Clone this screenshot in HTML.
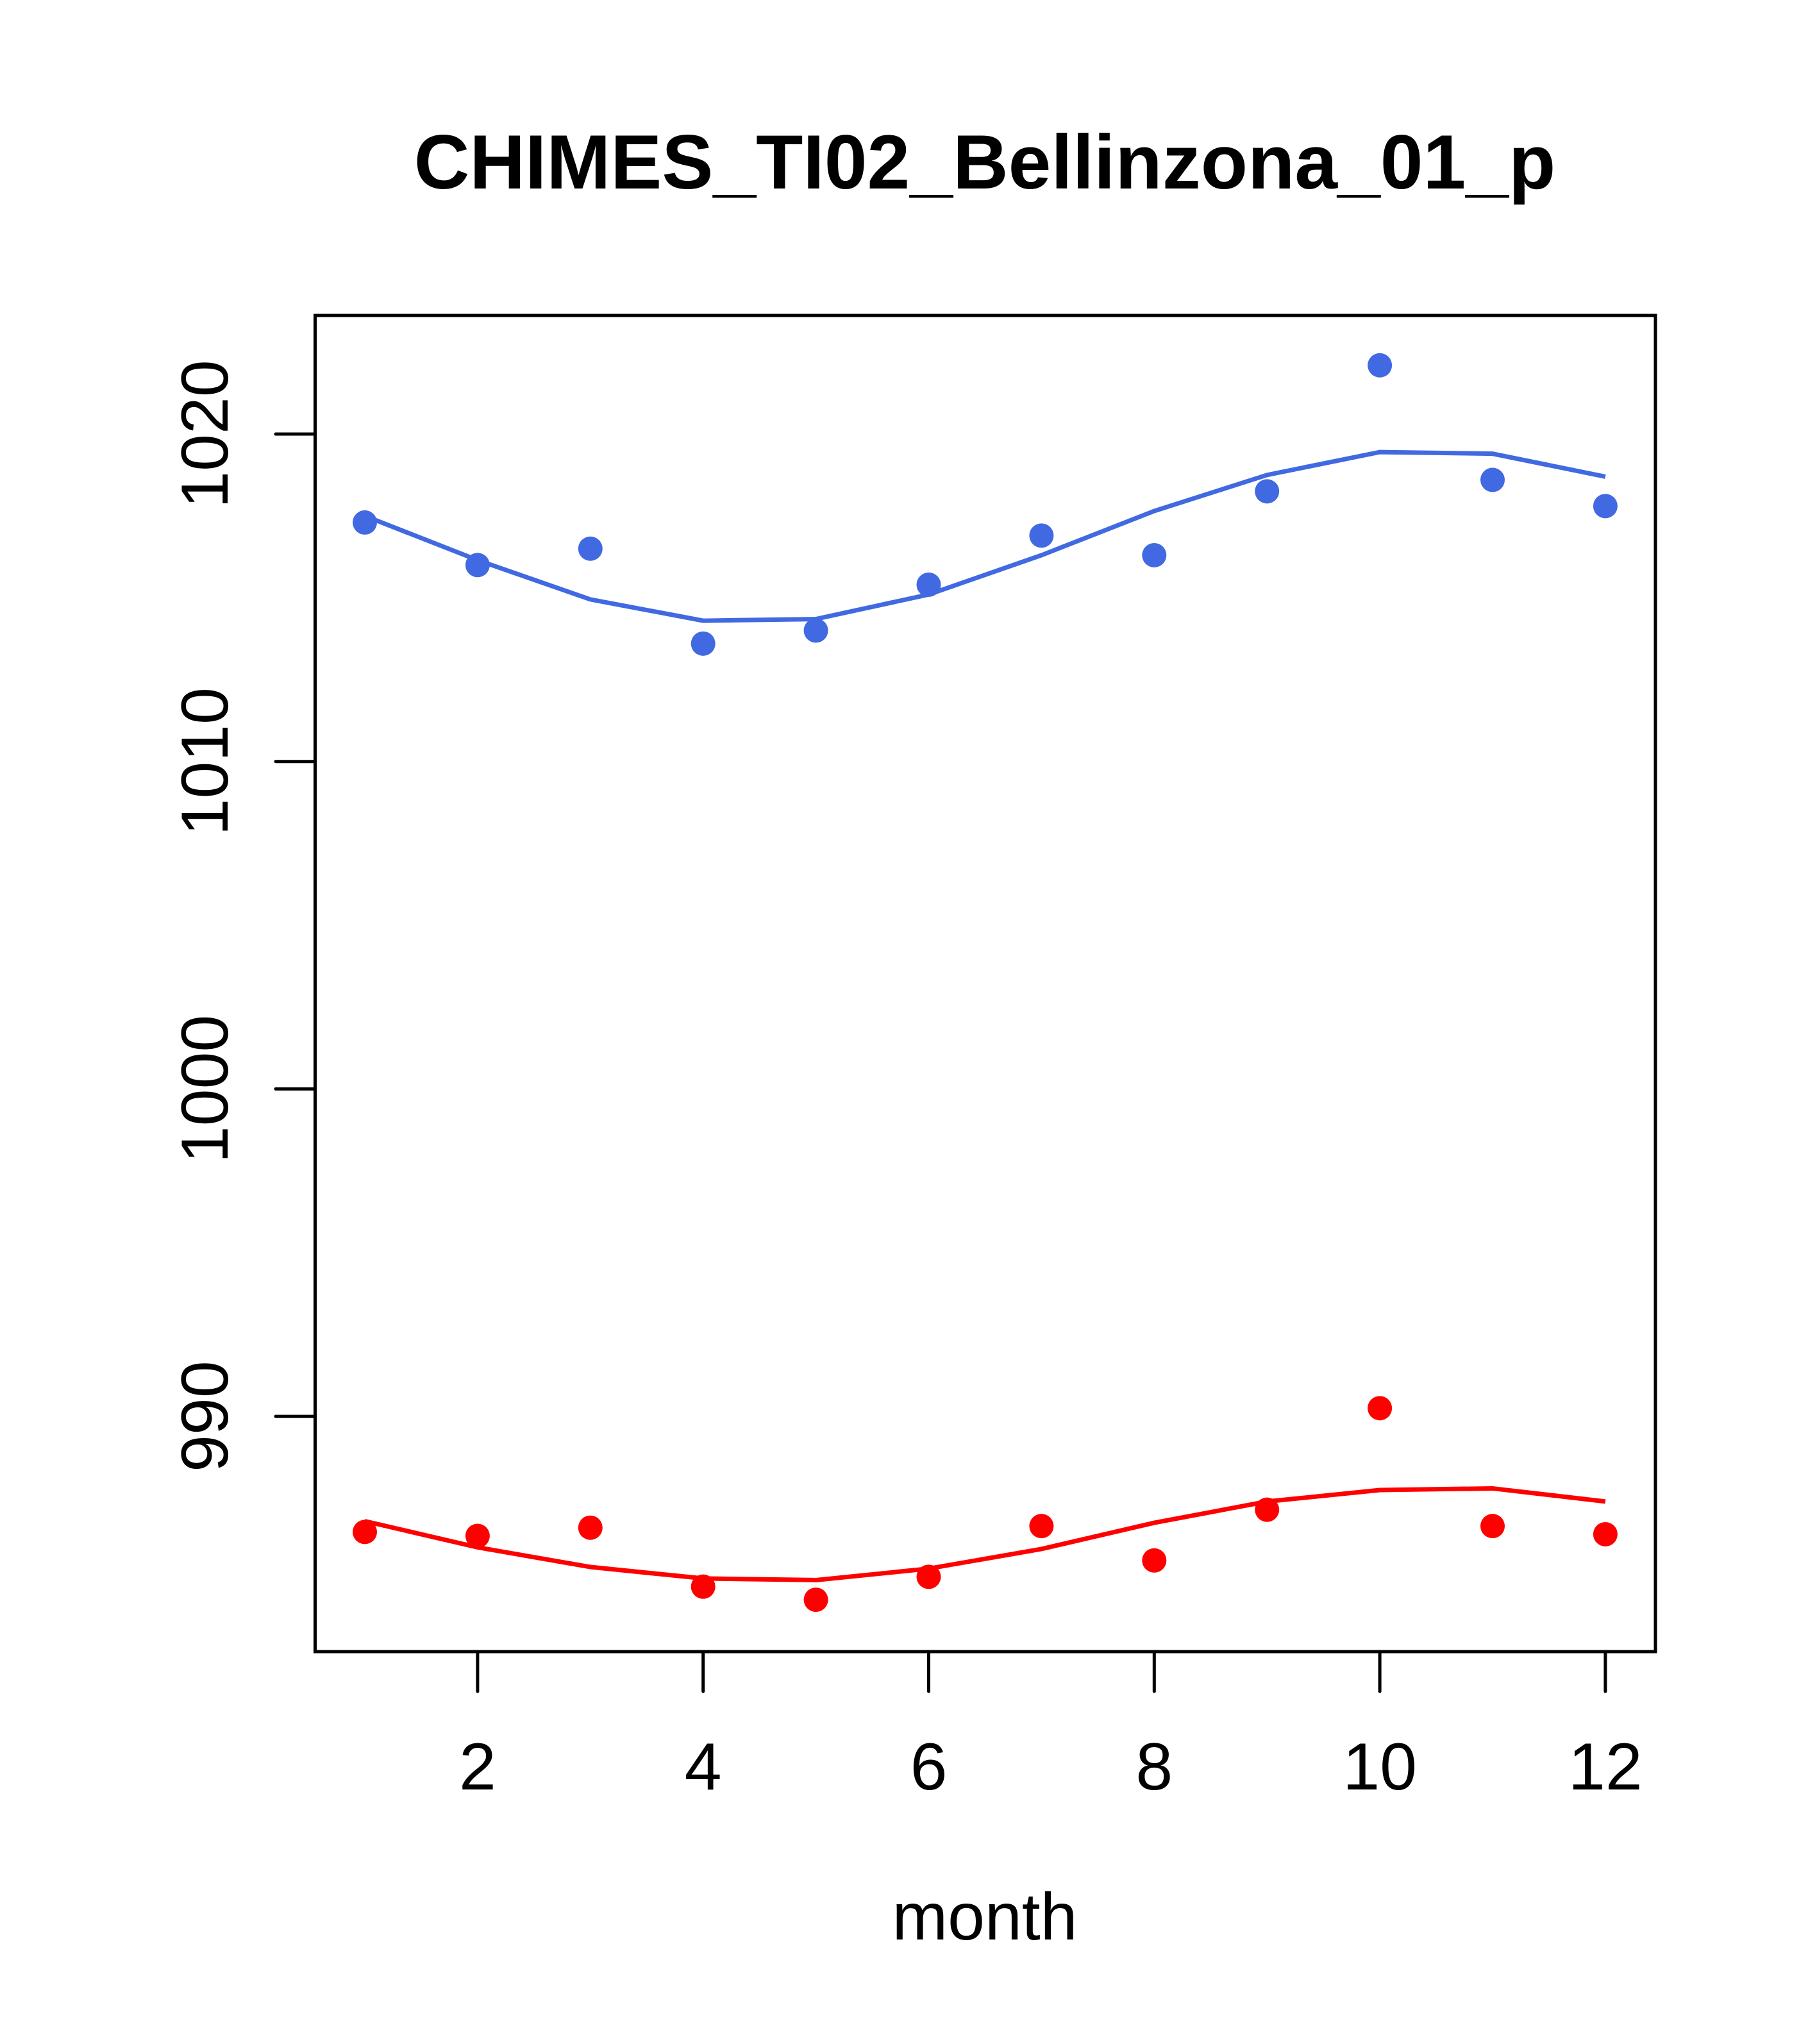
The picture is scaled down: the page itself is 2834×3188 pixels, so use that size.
<!DOCTYPE html>
<html><head><meta charset="utf-8"><style>html,body{margin:0;padding:0;background:#fff}svg{display:block}</style></head>
<body>
<svg id="chart" width="2834" height="3188" viewBox="0 0 2834 3188" xmlns="http://www.w3.org/2000/svg" font-family="'Liberation Sans', Arial, sans-serif">
<rect width="2834" height="3188" fill="#fff"/>
<text x="1536" y="294" font-size="120" font-weight="bold" text-anchor="middle">CHIMES_TI02_Bellinzona_01_p</text>
<g id="plot"></g>
<text x="1536" y="3025" font-size="104" text-anchor="middle">month</text>
</svg>
<script>
const months = [1,2,3,4,5,6,7,8,9,10,11,12];
const bluePoints = [1017.3,1016.0,1016.5,1013.6,1014.0,1015.4,1016.9,1016.3,1018.25,1022.1,1018.6,1017.8];
const blueLine = [1017.5,1016.15,1014.95,1014.3,1014.35,1015.1,1016.3,1017.65,1018.75,1019.45,1019.4,1018.7];
const redPoints = [986.47,986.35,986.6,984.8,984.4,985.1,986.65,985.6,987.15,990.25,986.65,986.4];
const redLine = [986.8,986.0,985.4,985.05,985.0,985.35,985.95,986.75,987.4,987.75,987.8,987.4];
const xTicks = [2,4,6,8,10,12];
const yTicks = [990,1000,1010,1020];

const NS = "http://www.w3.org/2000/svg";
const X = m => 569 + (m-1)*175.9;
const Y = v => 677 + (1020 - v)*51.07;
const g = document.getElementById('plot');
function mk(tag, attrs){const e=document.createElementNS(NS,tag);for(const k in attrs)e.setAttribute(k,attrs[k]);g.appendChild(e);return e;}

const box = mk('rect',{x:491.5,y:492,width:2090.5,height:2084,fill:'none',stroke:'#000','stroke-width':5});



xTicks.forEach(t=>{
  const l = mk('line',{x1:X(t),x2:X(t),y1:2576,y2:2638,stroke:'#000','stroke-width':5,'stroke-linecap':'round'});
  
  
  const tx = mk('text',{x:X(t),y:2791,'font-size':104,'text-anchor':'middle'});
  tx.textContent = t;
  
  
});
yTicks.forEach(t=>{
  const l = mk('line',{x1:430,x2:491.5,y1:Y(t),y2:Y(t),stroke:'#000','stroke-width':5,'stroke-linecap':'round'});
  
  
  const tx = mk('text',{x:355,y:Y(t),'font-size':104,'text-anchor':'middle',transform:`rotate(-90 355 ${Y(t)})`});
  tx.textContent = t;
  
  
});

function series(pts, line, color, name){
  const p = mk('polyline',{points: months.map((m,i)=>X(m)+','+Y(line[i])).join(' '),fill:'none',stroke:color,'stroke-width':7});
  
  
  months.forEach((m,i)=>{
    const c = mk('circle',{cx:X(m),cy:Y(pts[i]),r:19,fill:color});
    
    
  });
}
series(bluePoints, blueLine, '#4169E1', 'blue');
series(redPoints, redLine, '#FF0000', 'red');
</script>
</body></html>
